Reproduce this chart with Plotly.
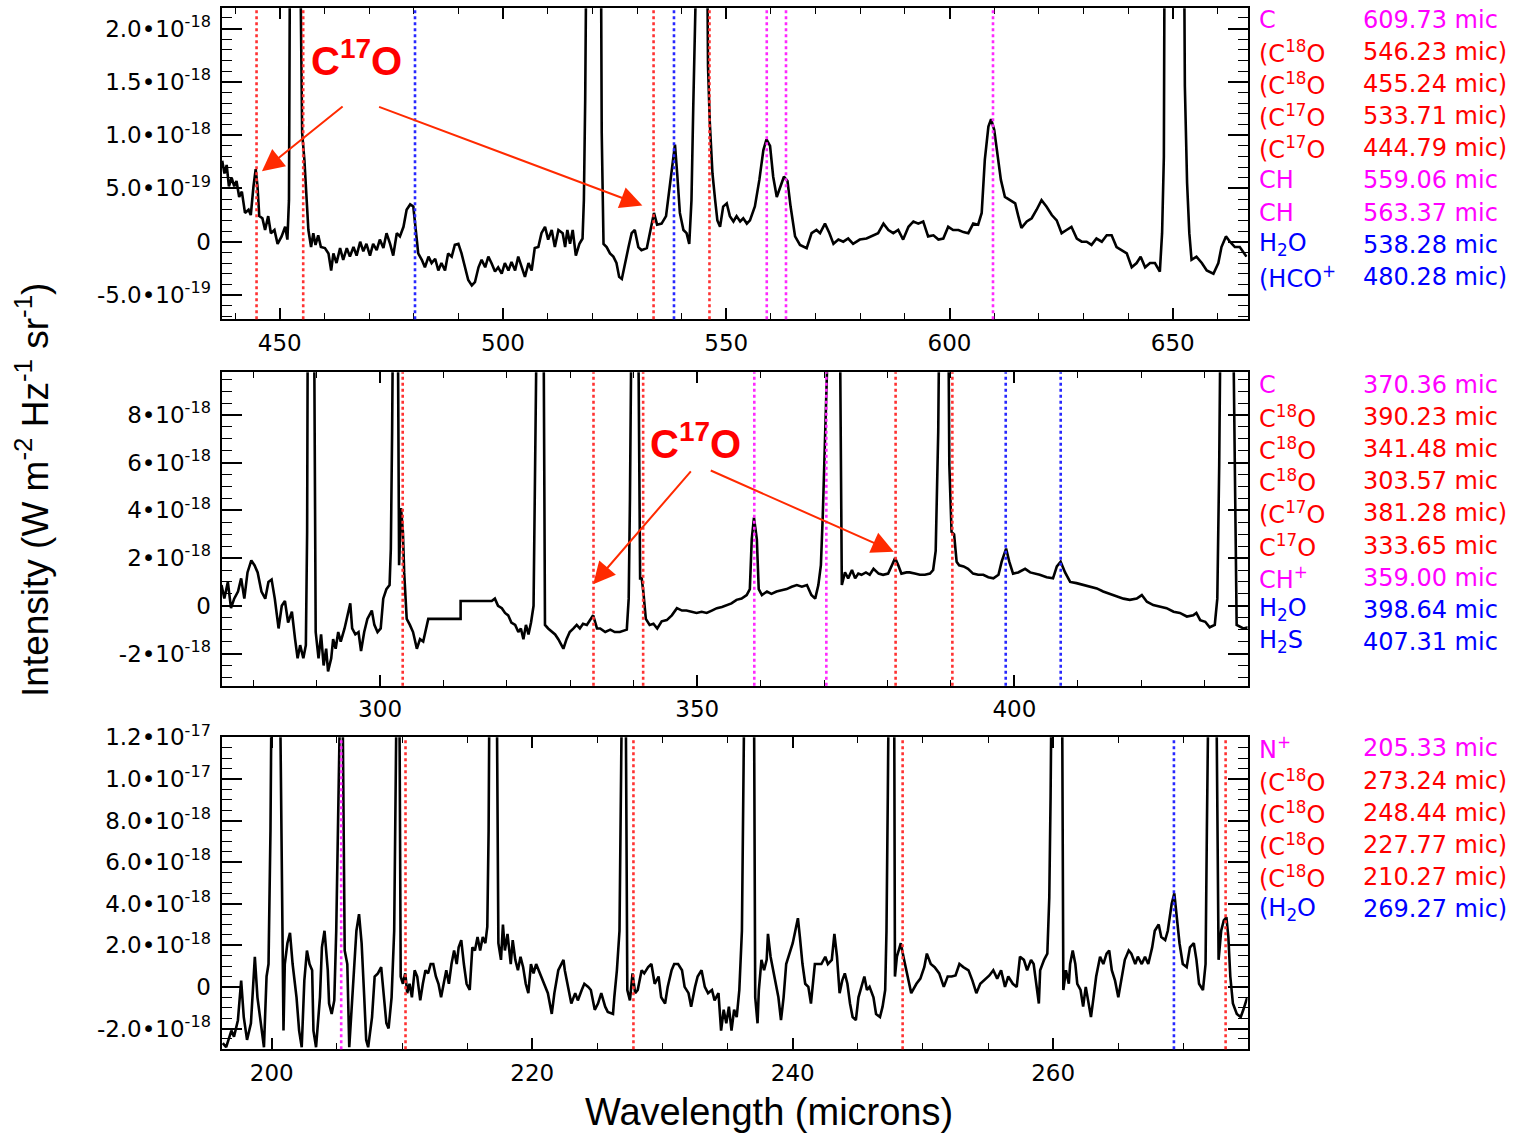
import plotly.graph_objects as go

# ------------------------------------------------------------------
# Spectrum, panel 1 (long-wavelength band); intensity in 1e-19 W m^-2 Hz^-1 sr^-1
# ------------------------------------------------------------------
p1_wave = [
    437.1, 437.6, 438.1, 438.6, 439.2, 439.8, 440.3, 440.9, 441.5, 442.2,
    443.0, 443.5, 444.1, 444.6, 445.0, 445.4, 446.1, 446.7, 447.4, 448.0,
    448.8, 449.5, 450.4, 451.2, 451.7, 452.05, 452.3, 453.4, 454.5, 455.0,
    455.5, 456.0, 456.4, 457.0, 457.5, 458.0, 458.6, 459.2, 460.1, 460.9,
    461.5, 462.0, 462.7, 463.5, 464.2, 465.0, 465.7, 466.5, 467.2, 468.0,
    468.7, 469.4, 470.2, 470.9, 471.7, 472.4, 473.2, 473.9, 474.7, 475.4,
    476.2, 476.9, 477.7, 478.4, 479.2, 479.9, 480.5, 481.0, 481.8, 482.5,
    483.3, 484.0, 484.8, 485.5, 486.2, 487.0, 487.7, 488.5, 489.2, 490.0,
    490.7, 491.5, 492.2, 493.0, 493.7, 494.5, 495.2, 496.0, 496.7, 497.4,
    498.2, 498.9, 499.7, 500.4, 501.2, 501.9, 502.7, 503.4, 504.2, 504.9,
    505.7, 506.4, 507.1, 507.9, 508.6, 509.4, 510.1, 510.9, 511.6, 512.4,
    513.35, 513.9, 514.4, 515.0, 515.6, 516.3, 517.1, 517.8, 518.1, 518.4,
    518.7, 520.2, 521.9, 522.1, 522.5, 523.2, 523.95, 524.7, 525.4, 526.0,
    526.6, 527.3, 528.1, 528.8, 529.5, 530.3, 531.0, 532.2, 532.9, 533.8,
    534.5, 535.5, 536.5, 537.4, 538.5, 539.0, 539.6, 540.4, 541.1, 541.7,
    542.2, 542.6, 543.2, 543.5, 544.5, 545.6, 545.9, 546.3, 546.9, 547.5,
    548.0, 548.6, 549.3, 550.1, 550.8, 551.6, 552.3, 553.1, 553.8, 554.6,
    555.3, 556.4, 557.4, 558.3, 559.0, 559.8, 560.5, 561.3, 562.0, 562.9,
    563.7, 564.4, 565.4, 566.5, 568.0, 569.1, 570.2, 571.0, 572.1, 573.1,
    574.0, 575.1, 576.2, 577.3, 578.4, 579.9, 581.4, 582.9, 584.0, 585.2,
    586.3, 587.4, 588.5, 589.6, 590.8, 591.9, 593.0, 594.1, 595.2, 596.4,
    597.5, 598.6, 599.7, 600.8, 602.0, 603.1, 604.2, 605.3, 606.4, 607.2,
    607.9, 608.7, 609.3, 610.0, 610.8, 611.5, 612.4, 613.5, 614.7, 615.4,
    616.1, 617.3, 618.4, 619.5, 620.6, 621.7, 622.9, 624.0, 625.1, 626.2,
    627.3, 628.5, 629.6, 630.7, 631.8, 632.9, 634.1, 635.2, 636.3, 637.4,
    638.5, 639.7, 640.8, 641.9, 642.8, 643.8, 644.9, 646.0, 647.1, 647.6,
    648.0, 648.5, 648.8, 650.3, 652.5, 652.7, 653.2, 653.7, 654.2, 655.3,
    656.5, 657.6, 659.1, 660.2, 660.9, 661.9, 662.8, 663.9, 665.0, 666.5,
]
p1_flux = [
    7.6, 6.4, 7.2, 5.2, 6.0, 5.2, 5.7, 4.2, 4.7, 2.7,
    3.0, 2.5, 5.2, 6.8, 5.2, 2.4, 2.2, 1.1, 2.4, 0.8,
    1.1, -0.2, 0.5, 1.4, 0.2, 3.9, 30.0, 60.0, 30.0, 10.2,
    7.7, 3.3, 1.1, -0.5, 0.8, -0.3, 0.6, -0.5, -0.6, -1.1,
    -2.7, -1.1, -2.0, -0.6, -1.7, -0.6, -1.4, -0.5, -1.3, 0.0,
    -0.9, -0.2, -1.3, -0.2, -0.8, 0.2, -0.6, 0.8, -0.2, -1.3,
    0.8, 0.5, 1.4, 3.0, 3.5, 3.3, 0.8, -1.1, -1.7, -2.4,
    -1.4, -2.0, -1.6, -2.7, -2.0, -2.7, -1.1, -1.4, -0.3, -0.2,
    -1.1, -2.4, -3.6, -4.1, -3.8, -2.4, -1.7, -2.4, -1.4, -2.0,
    -2.8, -2.4, -3.0, -2.0, -2.7, -1.9, -2.7, -1.4, -2.4, -3.3,
    -2.0, -2.7, -0.6, -0.5, 0.8, 1.4, 0.2, 1.1, -0.5, 1.1,
    0.8, -0.5, 1.1, -0.2, 1.1, -1.3, -0.2, 0.3, 3.9, 13.4,
    30.0, 200.0, 30.0, 10.2, -0.2, -0.5, -1.1, -1.4, -2.0, -3.3,
    -3.5, -2.0, -0.5, 0.8, 1.1, -0.5, -0.8, -0.6, 0.8, 2.7,
    1.6, 1.7, 2.4, 5.2, 9.1, 6.4, 2.7, 1.1, 0.8, -0.2,
    3.9, 12.7, 19.7, 30.0, 100.0, 30.0, 16.5, 11.2, 6.4, 3.9,
    2.0, 1.4, 3.3, 3.6, 2.4, 1.9, 2.4, 1.9, 2.2, 1.7,
    2.0, 3.3, 5.8, 8.6, 9.6, 9.0, 6.1, 4.2, 5.0, 6.1,
    5.7, 3.3, 0.5, -0.3, -0.6, 0.8, 1.1, 0.8, 1.7, 0.8,
    -0.2, 0.2, 0.0, 0.3, -0.2, 0.2, 0.3, 0.6, 0.8, 1.7,
    1.1, 0.8, 1.1, 0.2, 1.4, 1.9, 1.7, 1.9, 0.5, 0.6,
    0.2, 0.3, 1.4, 1.1, 1.1, 0.9, 0.8, 1.7, 1.6, 2.7,
    7.7, 10.8, 11.5, 10.5, 8.0, 5.8, 4.2, 3.9, 3.6, 2.4,
    1.3, 1.9, 2.2, 3.0, 3.9, 3.3, 2.5, 2.0, 0.8, 1.1,
    1.4, 0.3, 0.0, 0.0, -0.3, 0.3, 0.0, 0.6, 0.6, -0.5,
    -0.8, -1.1, -2.4, -2.0, -1.4, -2.4, -2.0, -2.0, -2.8, 0.8,
    8.0, 19.7, 30.0, 300.0, 30.0, 14.6, 5.5, 0.8, -1.7, -1.4,
    -2.0, -2.7, -3.0, -2.0, -0.5, 0.5, 0.0, -0.5, -0.5, -1.4,
]

# ------------------------------------------------------------------
# Spectrum, panel 2 (middle band); intensity in 1e-18 W m^-2 Hz^-1 sr^-1
# ------------------------------------------------------------------
p2_wave = [
    275.0, 275.45, 276.0, 276.5, 277.0, 277.6, 278.1, 278.6, 279.1, 279.7,
    280.2, 280.7, 281.3, 281.9, 282.4, 282.9, 283.4, 284.0, 284.5, 285.0,
    285.5, 286.1, 286.6, 287.0, 287.4, 287.9, 288.3, 288.5, 288.6, 289.1,
    289.6, 289.85, 290.3, 290.7, 291.1, 291.5, 291.8, 292.3, 292.6, 293.0,
    293.4, 293.8, 294.4, 294.9, 295.3, 295.6, 296.1, 296.6, 297.0, 297.5,
    298.0, 298.7, 299.1, 299.6, 300.1, 300.5, 301.0, 301.5, 301.7, 301.9,
    302.1, 302.4, 302.8, 303.0, 303.3, 303.6, 303.8, 304.2, 304.7, 305.2,
    305.8, 306.3, 306.8, 307.3, 307.6, 312.7, 312.7, 317.6, 318.1, 318.6,
    319.2, 319.7, 320.2, 320.7, 321.3, 321.8, 322.2, 322.6, 323.0, 323.4,
    323.8, 324.2, 324.4, 324.7, 325.2, 325.7, 326.0, 326.5, 327.1, 327.6,
    328.1, 328.9, 329.4, 329.9, 330.5, 331.0, 331.5, 332.0, 332.6, 333.1,
    333.6, 334.2, 334.7, 335.5, 336.3, 337.0, 337.8, 338.9, 339.2, 339.4,
    339.7, 340.2, 340.7, 341.0, 341.25, 341.5, 341.9, 342.5, 343.1, 343.7,
    344.4, 345.2, 346.0, 346.8, 347.6, 348.3, 349.1, 349.9, 350.7, 351.5,
    352.3, 353.1, 353.9, 354.6, 355.4, 356.2, 357.0, 357.8, 358.3, 358.6,
    358.95, 359.4, 359.7, 360.2, 361.0, 361.7, 362.5, 363.3, 364.1, 364.9,
    365.7, 366.5, 367.3, 368.0, 368.6, 369.1, 369.5, 369.8, 370.15, 370.4,
    370.7, 371.6, 372.5, 372.8, 373.3, 373.8, 374.4, 374.9, 375.4, 375.9,
    376.6, 377.2, 377.8, 378.6, 379.3, 380.1, 380.7, 381.2, 381.7, 382.2,
    383.0, 383.5, 384.3, 385.1, 385.9, 386.7, 387.2, 387.6, 388.0, 388.2,
    388.8, 389.6, 389.75, 390.1, 390.5, 390.9, 391.3, 392.0, 392.7, 393.5,
    394.3, 395.1, 395.9, 396.7, 397.5, 398.0, 398.7, 399.2, 399.8, 400.6,
    401.7, 402.5, 403.3, 404.0, 405.1, 406.1, 406.7, 407.3, 408.0, 408.8,
    409.8, 410.9, 411.9, 413.0, 414.0, 415.1, 416.1, 417.2, 418.2, 419.3,
    420.1, 420.9, 421.9, 423.0, 424.0, 425.1, 426.1, 427.2, 428.2, 428.7,
    429.3, 430.1, 430.8, 431.6, 432.0, 432.3, 432.7, 433.6, 434.5, 434.8,
    435.05, 436.1, 436.9,
]
p2_flux = [
    0.87, 0.31, 1.0, -0.1, 0.3, 0.6, 1.15, 0.3, 1.4, 1.9,
    1.7, 1.4, 0.6, 0.3, 1.0, 1.1, 0.3, -0.95, 0.0, 0.2,
    -0.7, -0.25, -1.4, -2.2, -1.65, -2.2, -1.65, 3.1, 12.0, 40.0,
    12.0, -1.1, -2.2, -1.2, -2.5, -1.8, -2.75, -2.2, -1.4, -1.8,
    -1.1, -1.5, -0.95, -0.4, 0.1, -0.95, -1.2, -1.1, -1.9, -1.1,
    -0.55, -0.2, -0.8, -1.1, -0.95, 0.3, 0.7, 0.87, 2.4, 7.3,
    12.0, 25.0, 12.0, 1.7, 4.1, 3.1, 1.4, -0.55, -0.8, -1.1,
    -1.8, -1.4, -1.5, -0.95, -0.55, -0.55, 0.2, 0.2, 0.3, 0.0,
    -0.1, -0.3, -0.4, -0.7, -0.8, -1.1, -0.95, -1.4, -0.8, -1.2,
    -0.7, 0.0, 5.9, 12.0, 45.0, 12.0, -0.8, -0.95, -1.1, -1.2,
    -1.4, -1.8, -1.4, -1.1, -0.95, -0.8, -0.95, -0.75, -0.8, -0.6,
    -0.4, -0.95, -0.95, -1.1, -1.0, -1.1, -1.1, -1.0, 0.3, 4.5,
    12.0, 30.0, 12.0, 1.15, 1.15, 0.6, -0.55, -0.8, -0.75, -0.95,
    -0.65, -0.6, -0.4, -0.1, -0.2, -0.2, -0.25, -0.3, -0.25, -0.3,
    -0.2, -0.1, -0.05, 0.03, 0.1, 0.25, 0.3, 0.45, 0.7, 2.8,
    3.7, 2.8, 0.7, 0.45, 0.6, 0.5, 0.6, 0.65, 0.7, 0.8,
    0.87, 0.8, 0.87, 0.45, 0.3, 0.87, 1.7, 3.8, 6.6, 8.7,
    12.0, 45.0, 12.0, 0.87, 1.4, 1.15, 1.5, 1.15, 1.35, 1.3,
    1.4, 1.3, 1.55, 1.35, 1.3, 1.35, 1.7, 2.0, 1.7, 1.35,
    1.4, 1.4, 1.35, 1.3, 1.3, 1.35, 1.5, 2.3, 7.3, 12.0,
    30.0, 12.0, 5.9, 3.1, 3.0, 1.85, 1.7, 1.65, 1.55, 1.35,
    1.3, 1.3, 1.2, 1.15, 1.3, 1.85, 2.4, 1.85, 1.35, 1.4,
    1.55, 1.4, 1.35, 1.3, 1.2, 1.15, 1.65, 1.85, 1.4, 1.0,
    0.95, 0.87, 0.8, 0.73, 0.6, 0.5, 0.4, 0.3, 0.25, 0.3,
    0.45, 0.17, 0.03, -0.04, -0.1, -0.25, -0.3, -0.45, -0.4, -0.3,
    -0.6, -0.67, -0.9, -0.8, 0.3, 5.9, 12.0, 45.0, 12.0, 5.9,
    -0.8, -0.95, -0.9,
]

# ------------------------------------------------------------------
# Spectrum, panel 3 (short-wavelength band); intensity in 1e-18 W m^-2 Hz^-1 sr^-1
# ------------------------------------------------------------------
p3_wave = [
    196.24, 196.5, 196.9, 197.1, 197.4, 197.65, 197.85, 198.1, 198.4, 198.55,
    198.7, 198.9, 199.2, 199.4, 199.6, 199.75, 199.9, 200.0, 200.3, 200.67,
    200.8, 200.9, 201.0, 201.2, 201.4, 201.6, 201.9, 202.1, 202.3, 202.5,
    202.7, 202.9, 203.1, 203.2, 203.4, 203.7, 203.85, 204.05, 204.3, 204.4,
    204.6, 204.8, 204.95, 205.1, 205.2, 205.33, 205.46, 205.6, 205.8, 205.95,
    206.1, 206.3, 206.5, 206.7, 206.9, 207.1, 207.25, 207.4, 207.7, 207.9,
    208.15, 208.4, 208.6, 208.8, 208.97, 209.2, 209.4, 209.5, 209.55, 209.68,
    209.8, 209.9, 210.07, 210.25, 210.4, 210.58, 210.76, 210.97, 211.17, 211.4,
    211.6, 211.8, 212.0, 212.2, 212.4, 212.6, 212.8, 213.0, 213.2, 213.4,
    213.6, 213.8, 214.0, 214.2, 214.35, 214.55, 214.75, 214.96, 215.2, 215.4,
    215.6, 215.8, 216.0, 216.2, 216.4, 216.55, 216.65, 216.7, 217.0, 217.3,
    217.4, 217.6, 217.75, 217.9, 218.1, 218.35, 218.5, 218.7, 218.9, 219.1,
    219.3, 219.5, 219.7, 219.9, 220.1, 220.3, 220.5, 220.7, 220.95, 221.2,
    221.5, 221.7, 222.0, 222.4, 222.5, 222.75, 223.0, 223.3, 223.5, 223.8,
    224.0, 224.3, 224.5, 224.8, 225.05, 225.3, 225.6, 225.8, 226.2, 226.3,
    226.5, 226.7, 226.8, 226.85, 227.04, 227.23, 227.3, 227.5, 227.7, 227.9,
    228.1, 228.4, 228.6, 228.9, 229.15, 229.4, 229.7, 229.9, 230.2, 230.4,
    230.7, 230.9, 231.2, 231.5, 231.7, 232.0, 232.2, 232.5, 232.7, 233.0,
    233.25, 233.5, 233.8, 234.0, 234.3, 234.5, 234.7, 234.9, 235.1, 235.3,
    235.5, 235.7, 235.9, 236.1, 236.2, 236.25, 236.6, 237.04, 237.12, 237.3,
    237.4, 237.6, 237.8, 238.0, 238.1, 238.3, 238.5, 238.7, 238.9, 239.1,
    239.3, 239.5, 239.8, 240.0, 240.2, 240.4, 240.55, 240.75, 240.96, 241.2,
    241.4, 241.7, 241.96, 242.2, 242.5, 242.7, 243.0, 243.2, 243.4, 243.6,
    243.8, 244.0, 244.2, 244.4, 244.6, 244.85, 245.05, 245.3, 245.5, 245.7,
    245.9, 246.2, 246.4, 246.7, 246.9, 247.1, 247.2, 247.3, 247.36, 247.58,
    247.8, 247.85, 248.0, 248.3, 248.5, 248.75, 249.1, 249.5, 249.8, 250.1,
    250.3, 250.6, 250.9, 251.25, 251.6, 251.9, 252.2, 252.5, 252.8, 253.1,
    253.5, 253.8, 254.1, 254.4, 254.8, 255.1, 255.4, 255.7, 256.0, 256.3,
    256.55, 256.9, 257.2, 257.45, 257.75, 258.0, 258.3, 258.5, 258.7, 258.9,
    259.0, 259.3, 259.55, 259.7, 259.8, 259.9, 260.3, 260.7, 260.78, 260.98,
    261.2, 261.3, 261.5, 261.7, 261.85, 262.1, 262.3, 262.5, 262.7, 262.9,
    263.1, 263.3, 263.6, 263.85, 264.1, 264.3, 264.5, 264.75, 265.0, 265.3,
    265.5, 265.8, 266.0, 266.3, 266.5, 266.8, 267.05, 267.3, 267.6, 267.8,
    268.1, 268.3, 268.6, 268.8, 269.1, 269.3, 269.5, 269.7, 269.95, 270.25,
    270.5, 270.8, 271.0, 271.2, 271.5, 271.7, 271.8, 271.9, 272.2, 272.56,
    272.7, 272.9, 273.1, 273.3, 273.45, 273.6, 273.8, 274.1, 274.4, 274.6,
    274.9,
]
p3_flux = [
    -2.7, -2.9, -2.1, -2.4, -1.6, 0.3, -1.45, -2.55, -1.75, 0.0,
    1.45, -0.5, -1.9, -2.9, 0.5, 1.1, 7.5, 12.0, 40.0, 12.0,
    2.7, -2.1, 1.1, 2.1, 2.6, 1.1, -0.5, -2.1, -2.9, 0.3,
    1.75, 1.1, 0.8, -2.1, -2.9, -0.5, 1.9, 2.7, 0.8, -0.8,
    -1.3, -0.65, 2.7, 7.5, 12.0, 40.0, 12.0, 1.75, 1.1, -2.9,
    -1.3, 1.1, 2.7, 3.5, 2.1, -0.5, -2.55, -2.9, -1.45, 0.5,
    0.65, 0.95, -0.5, -1.75, -2.0, -0.5, 2.7, 7.5, 12.0, 30.0,
    12.0, 0.5, 0.15, 0.65, -0.3, 0.15, -0.5, 0.8, 0.5, -0.65,
    0.15, 0.8, 0.65, 1.1, 1.1, 0.5, 0.15, -0.5, 0.15, 0.8,
    0.15, 1.1, 1.75, 1.1, 1.9, 2.25, 1.1, 0.15, -0.15, 1.9,
    1.75, 2.4, 1.75, 2.4, 2.1, 2.9, 7.5, 12.0, 45.0, 12.0,
    2.1, 1.3, 3.0, 1.75, 2.55, 1.1, 2.25, 1.3, 0.8, 1.45,
    0.95, 0.15, -0.3, 1.1, 0.65, 1.1, 0.8, 0.5, 0.15, -0.3,
    -1.3, -0.3, 0.8, 1.3, 0.8, 0.0, -0.8, -0.3, -0.65, -0.15,
    0.15, 0.0, -0.15, -1.1, -0.8, -0.3, -0.95, -1.2, -1.3, -0.5,
    0.8, 2.7, 7.5, 12.0, 30.0, 12.0, -0.15, -0.65, 0.65, -0.3,
    -0.15, 0.8, 0.65, 0.95, 1.1, 0.15, 0.5, -0.5, -0.8, 0.0,
    0.8, 1.1, 1.1, 0.8, 0.0, -0.3, -0.95, 0.0, 0.5, 0.8,
    0.0, -0.3, -0.15, -0.65, -0.3, -2.1, -1.1, -1.75, -0.95, -2.1,
    -1.1, -1.45, -0.15, 2.7, 9.1, 12.0, 45.0, 12.0, -0.5, -1.75,
    -0.15, 1.3, 0.8, 1.3, 2.55, 1.45, 0.8, 0.15, -0.5, -1.6,
    -0.5, 1.1, 1.75, 2.1, 2.7, 3.3, 2.4, 1.1, 0.15, 0.0,
    -0.8, 1.1, 1.1, 1.1, 1.45, 1.1, 1.3, 2.55, 1.45, -0.3,
    0.3, 0.65, 0.15, -0.8, -1.45, -1.6, -0.5, 0.0, 0.5, -0.15,
    0.0, -0.5, -1.3, -1.45, -0.95, -0.15, 2.7, 9.1, 12.0, 30.0,
    12.0, 0.5, 1.45, 2.1, 1.45, 0.65, -0.3, 0.15, 0.4, 0.95,
    1.6, 1.1, 0.95, 0.65, 0.0, 0.5, 0.5, 0.55, 1.1, 0.95,
    0.8, 0.3, -0.3, 0.15, 0.4, 0.55, 0.8, 0.4, 0.8, 0.0,
    0.5, 0.15, 0.0, 1.45, 1.3, 0.8, 1.3, 1.1, 0.15, -0.8,
    0.8, 1.3, 1.6, 4.3, 9.1, 12.0, 45.0, 12.0, -0.15, 0.8,
    0.15, 1.1, 1.75, 1.1, 0.15, -0.15, -0.95, 0.0, -0.8, -1.45,
    -0.5, 0.5, 1.45, 1.1, 1.6, 1.75, 0.8, 0.3, -0.5, 0.5,
    1.3, 1.75, 1.6, 1.1, 1.45, 1.1, 1.45, 1.1, 1.9, 2.7,
    3.0, 2.4, 2.25, 2.7, 4.0, 4.5, 3.35, 2.1, 1.1, 0.95,
    1.9, 2.1, 1.3, 0.15, -0.15, 1.1, 7.5, 12.0, 30.0, 12.0,
    1.3, 2.7, 3.2, 3.35, 2.4, 0.5, -0.8, -1.3, -1.45, -1.1,
    -0.5,
]

# ------------------------------------------------------------------
# Line identifications: species, rest wavelength (micron), colour group,
# and whether the identification is tentative (shown in brackets)
# ------------------------------------------------------------------
p1_species = ["C", "C<sup>18</sup>O", "C<sup>18</sup>O", "C<sup>17</sup>O", "C<sup>17</sup>O",
              "CH", "CH", "H<sub>2</sub>O", "HCO<sup>+</sup>"]
p1_lines = [609.73, 546.23, 455.24, 533.71, 444.79, 559.06, 563.37, 538.28, 480.28]
p1_group = ["m", "r", "r", "r", "r", "m", "m", "b", "b"]
p1_tentative = [False, True, True, True, True, False, False, False, True]

p2_species = ["C", "C<sup>18</sup>O", "C<sup>18</sup>O", "C<sup>18</sup>O", "C<sup>17</sup>O",
              "C<sup>17</sup>O", "CH<sup>+</sup>", "H<sub>2</sub>O", "H<sub>2</sub>S"]
p2_lines = [370.36, 390.23, 341.48, 303.57, 381.28, 333.65, 359.00, 398.64, 407.31]
p2_group = ["m", "r", "r", "r", "r", "r", "m", "b", "b"]
p2_tentative = [False, False, False, False, True, False, False, False, False]

p3_species = ["N<sup>+</sup>", "C<sup>18</sup>O", "C<sup>18</sup>O", "C<sup>18</sup>O",
              "C<sup>18</sup>O", "H<sub>2</sub>O"]
p3_lines = [205.33, 273.24, 248.44, 227.77, 210.27, 269.27]
p3_group = ["m", "r", "r", "r", "r", "b"]
p3_tentative = [False, True, True, True, True, True]

# ------------------------------------------------------------------
# Axis ticks
# ------------------------------------------------------------------
p1_ytick_vals = [-5e-19, 0, 5e-19, 1e-18, 1.5e-18, 2e-18]
p1_ytick_text = ["-5.0•10<sup>-19</sup>", "0", "5.0•10<sup>-19</sup>", "1.0•10<sup>-18</sup>",
                 "1.5•10<sup>-18</sup>", "2.0•10<sup>-18</sup>"]
p2_ytick_vals = [-2e-18, 0, 2e-18, 4e-18, 6e-18, 8e-18]
p2_ytick_text = ["-2•10<sup>-18</sup>", "0", "2•10<sup>-18</sup>", "4•10<sup>-18</sup>",
                 "6•10<sup>-18</sup>", "8•10<sup>-18</sup>"]
p3_ytick_vals = [-2e-18, 0, 2e-18, 4e-18, 6e-18, 8e-18, 1e-17, 1.2e-17]
p3_ytick_text = ["-2.0•10<sup>-18</sup>", "0", "2.0•10<sup>-18</sup>", "4.0•10<sup>-18</sup>",
                 "6.0•10<sup>-18</sup>", "8.0•10<sup>-18</sup>", "1.0•10<sup>-17</sup>",
                 "1.2•10<sup>-17</sup>"]

GROUP_COLORS = {"m": "#ff00ff", "r": "#ff0000", "b": "#0000ff"}
LINE_COLORS = {"m": "rgb(255,40,255)", "r": "rgb(255,50,50)", "b": "rgb(40,40,255)"}

W, H = 1531, 1134

panels = [
    dict(wave=p1_wave, flux=p1_flux, unit=1e-19,
         xrange=[436.94, 666.73], yrange=[-7.28e-19, 2.19e-18],
         xdtick=50, xminor=10, yminor=1e-19,
         yvals=p1_ytick_vals, ytext=p1_ytick_text,
         top=8.3, bottom=319.3,
         species=p1_species, lines=p1_lines, group=p1_group, tent=p1_tentative,
         row0=20.0),
    dict(wave=p2_wave, flux=p2_flux, unit=1e-18,
         xrange=[275.0, 436.76], yrange=[-3.35e-18, 9.79e-18],
         xdtick=50, xminor=10, yminor=5e-19,
         yvals=p2_ytick_vals, ytext=p2_ytick_text,
         top=372.3, bottom=685.7,
         species=p2_species, lines=p2_lines, group=p2_group, tent=p2_tentative,
         row0=385.0),
    dict(wave=p3_wave, flux=p3_flux, unit=1e-18,
         xrange=[196.14, 274.92], yrange=[-3.0e-18, 1.2e-17],
         xdtick=20, xminor=5, yminor=5e-19,
         yvals=p3_ytick_vals, ytext=p3_ytick_text,
         top=737.3, bottom=1049.3,
         species=p3_species, lines=p3_lines, group=p3_group, tent=p3_tentative,
         row0=748.5),
]

x_left, x_right = 221.5, 1247.5
tick_font = dict(family="DejaVu Sans", size=23, color="black")
label_font_size = 24
row_step = 32.1

fig = go.Figure()
layout = dict(
    width=W, height=H,
    margin=dict(l=0, r=0, t=0, b=0),
    paper_bgcolor="white", plot_bgcolor="white",
    showlegend=False,
)
shapes = []
annotations = []

for i, p in enumerate(panels, start=1):
    suffix = "" if i == 1 else str(i)
    xa, ya = "x" + suffix, "y" + suffix

    fig.add_trace(go.Scatter(
        x=p["wave"], y=[v * p["unit"] for v in p["flux"]],
        mode="lines", line=dict(color="black", width=2.6),
        xaxis=xa, yaxis=ya, hoverinfo="skip",
    ))

    layout["xaxis" + suffix] = dict(
        domain=[x_left / W, x_right / W], anchor=ya, range=p["xrange"],
        tickmode="linear", tick0=0, dtick=p["xdtick"],
        ticks="inside", ticklen=11, tickwidth=1.6, tickcolor="black",
        minor=dict(tickmode="linear", tick0=0, dtick=p["xminor"], ticks="inside",
                   ticklen=6, tickwidth=1.4, tickcolor="black"),
        showline=True, linecolor="black", linewidth=2, mirror="allticks",
        showgrid=False, zeroline=False, tickfont=tick_font,
        ticklabelstandoff=2, automargin=False, fixedrange=True,
    )
    layout["yaxis" + suffix] = dict(
        domain=[1 - p["bottom"] / H, 1 - p["top"] / H], anchor=xa, range=p["yrange"],
        tickmode="array", tickvals=p["yvals"], ticktext=p["ytext"],
        ticks="inside", ticklen=20, tickwidth=1.6, tickcolor="black",
        minor=dict(tickmode="linear", tick0=0, dtick=p["yminor"], ticks="inside",
                   ticklen=10, tickwidth=1.4, tickcolor="black"),
        showline=True, linecolor="black", linewidth=2, mirror="allticks",
        showgrid=False, zeroline=False, tickfont=tick_font,
        ticklabelstandoff=4, automargin=False, fixedrange=True,
    )

    # dotted markers at the identified line wavelengths, plus the line list
    for k, (sp, wl, grp, tent) in enumerate(zip(p["species"], p["lines"], p["group"], p["tent"])):
        shapes.append(dict(
            type="line", xref=xa, yref=ya + " domain", x0=wl, x1=wl, y0=0, y1=1,
            line=dict(color=LINE_COLORS[grp], width=2.6, dash="dot"), layer="above",
        ))
        row_y = 1 - (p["row0"] + k * row_step) / H
        annotations.append(dict(
            text=("(" if tent else "") + sp, x=1257 / W, y=row_y, xref="paper", yref="paper",
            xanchor="left", yanchor="middle", showarrow=False,
            font=dict(family="DejaVu Sans", size=label_font_size, color=GROUP_COLORS[grp]),
        ))
        annotations.append(dict(
            text=f"{wl:.2f} mic" + (")" if tent else ""), x=1361 / W, y=row_y,
            xref="paper", yref="paper", xanchor="left", yanchor="middle", showarrow=False,
            font=dict(family="DejaVu Sans", size=label_font_size, color=GROUP_COLORS[grp]),
        ))

# C17O call-outs with arrows pointing at the weak isotopologue lines
callouts = [
    dict(xa="x", ya="y", text_xy=(467.1, 1.72e-18),
         arrows=[((464.4, 1.28e-18), (446.0, 6.6e-19)), ((471.9, 1.27e-18), (531.2, 3.4e-19))]),
    dict(xa="x2", ya="y2", text_xy=(349.8, 6.92e-18),
         arrows=[((349.2, 5.70e-18), (333.6, 0.90e-18)), ((351.9, 5.70e-18), (381.0, 2.27e-18))]),
]
for c in callouts:
    annotations.append(dict(
        text="<b>C<sup>17</sup>O</b>", x=c["text_xy"][0], y=c["text_xy"][1],
        xref=c["xa"], yref=c["ya"], showarrow=False, xanchor="center", yanchor="middle",
        font=dict(family="Liberation Sans", size=40, color="#ff0000"),
    ))
    for (tx, ty), (hx, hy) in c["arrows"]:
        annotations.append(dict(
            text="", x=hx, y=hy, ax=tx, ay=ty, xref=c["xa"], yref=c["ya"],
            axref=c["xa"], ayref=c["ya"], showarrow=True, arrowhead=2, arrowsize=2.2,
            arrowwidth=2, arrowcolor="#ff2a00", standoff=0, startstandoff=0,
        ))

# axis titles
annotations.append(dict(
    text="Wavelength (microns)", x=769 / W, y=1 - 1112 / H, xref="paper", yref="paper",
    showarrow=False, xanchor="center", yanchor="middle",
    font=dict(family="Liberation Sans", size=38, color="black"),
))
annotations.append(dict(
    text="Intensity (W m<sup>-2</sup> Hz<sup>-1</sup> sr<sup>-1</sup>)",
    x=33 / W, y=1 - 490 / H, xref="paper", yref="paper", textangle=-90,
    showarrow=False, xanchor="center", yanchor="middle",
    font=dict(family="Liberation Sans", size=37, color="black"),
))

layout["shapes"] = shapes
layout["annotations"] = annotations
fig.update_layout(**layout)

fig.write_html("out.html")
